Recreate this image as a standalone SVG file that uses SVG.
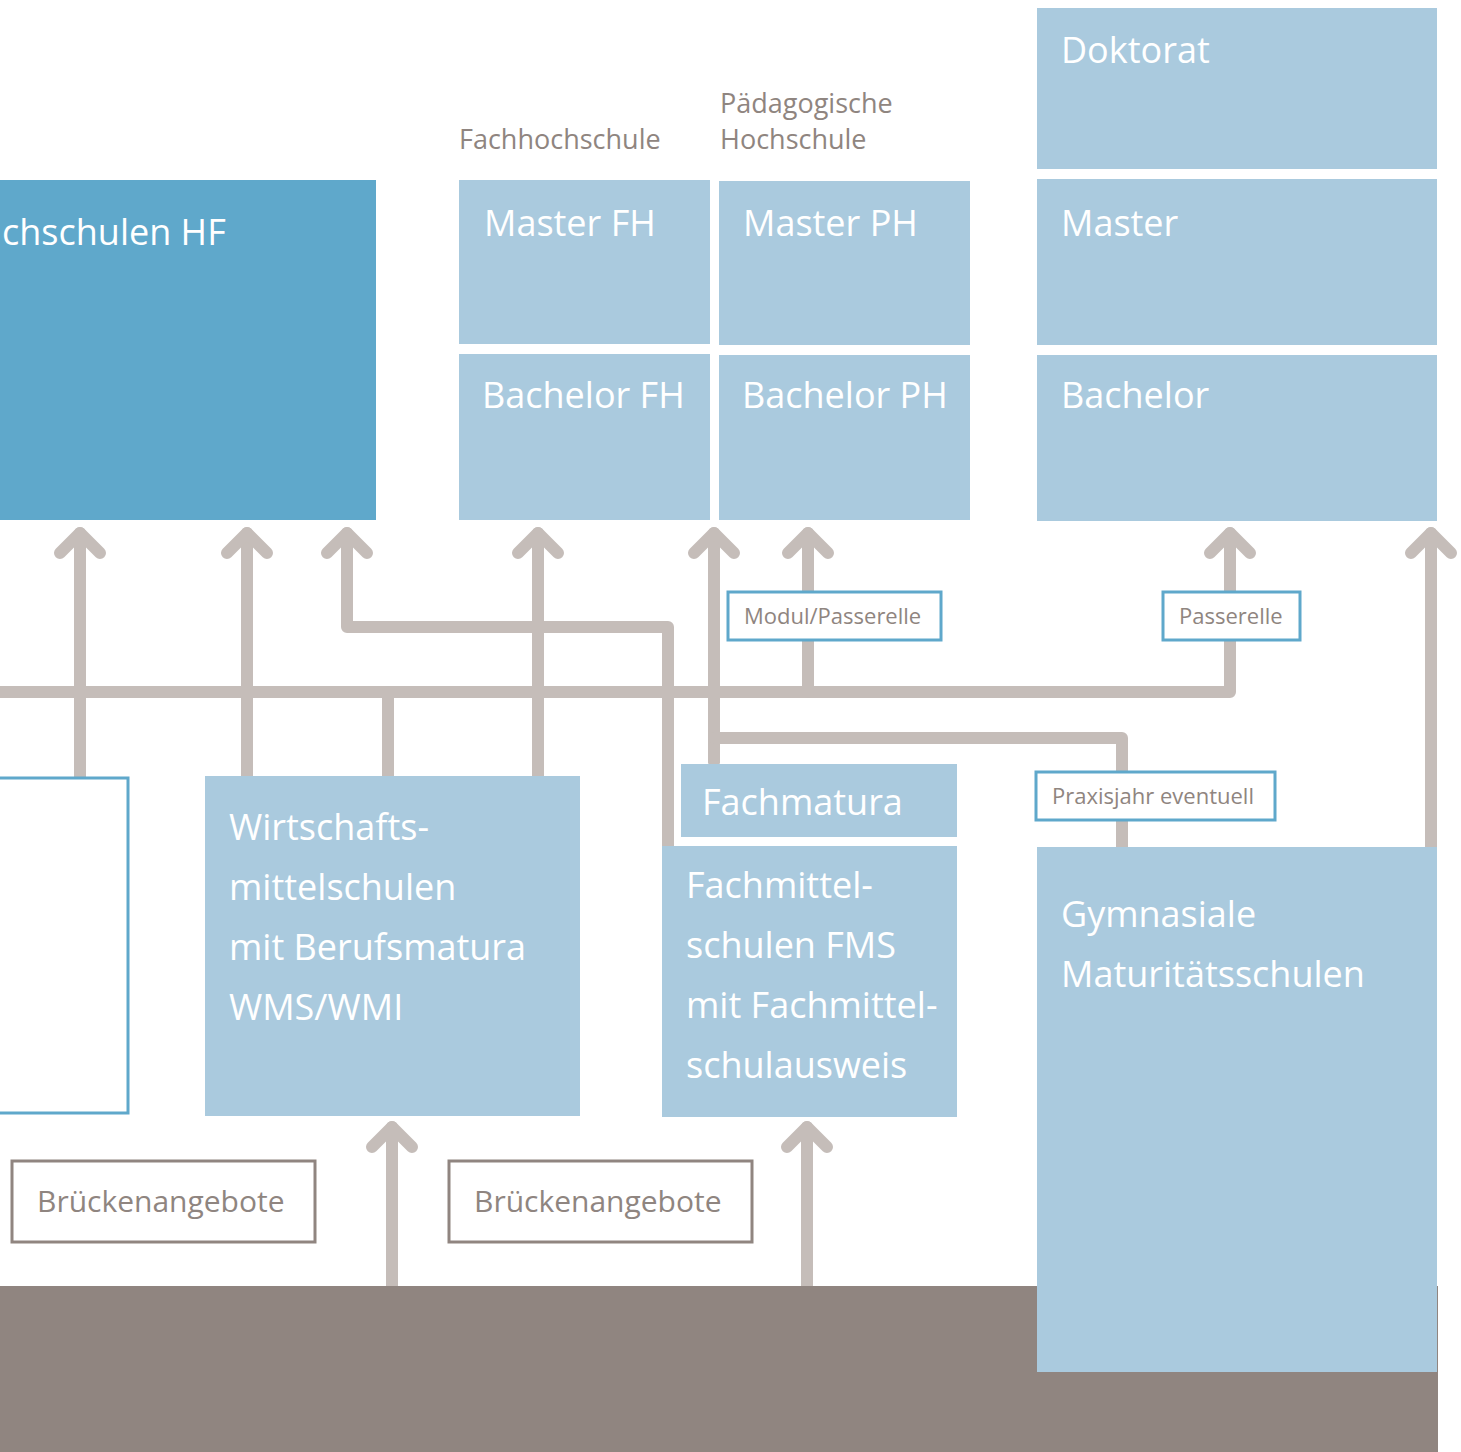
<svg xmlns="http://www.w3.org/2000/svg" xmlns:xlink="http://www.w3.org/1999/xlink" width="1461" height="1452" viewBox="0 0 1461 1452">
<style>
.conn{fill:none;stroke:#c5bdb9;stroke-width:12;stroke-linecap:round;stroke-linejoin:round}
.dark{fill:#5fa8cb}
.light{fill:#aacade}
.t{font-family:"Open Sans","Noto Sans","Liberation Sans",sans-serif;fill:#ffffff;font-size:36px}
.h{font-family:"Open Sans","Noto Sans","Liberation Sans",sans-serif;fill:#8f8580;font-size:27px}
.lbl{fill:#ffffff;stroke:#5fa8cb;stroke-width:3}
.lt{font-family:"Open Sans","Noto Sans","Liberation Sans",sans-serif;fill:#8f8580;font-size:22px}
.br{fill:#ffffff;stroke:#908580;stroke-width:3}
.bt{font-family:"Open Sans","Noto Sans","Liberation Sans",sans-serif;fill:#8f8580;font-size:30px}
</style>
<defs>
<path id="head" class="conn" d="M-20,20 L0,0 L20,20"/>
</defs>
<rect x="0" y="0" width="1461" height="1452" fill="#ffffff"/>
<g id="connectors">
<path class="conn" d="M80,777 V533"/><use xlink:href="#head" x="80" y="533"/>
<path class="conn" d="M247,776 V533"/><use xlink:href="#head" x="247" y="533"/>
<path class="conn" d="M668,846 V627 H347 V533"/><use xlink:href="#head" x="347" y="533"/>
<path class="conn" d="M-10,692 H1230 V533"/><use xlink:href="#head" x="1230" y="533"/>
<path class="conn" d="M388,692 V776"/>
<path class="conn" d="M538,776 V533"/><use xlink:href="#head" x="538" y="533"/>
<path class="conn" d="M714,762 V533"/><use xlink:href="#head" x="714" y="533"/>
<path class="conn" d="M714,738 H1122 V847"/>
<path class="conn" d="M808,692 V533"/><use xlink:href="#head" x="808" y="533"/>
<path class="conn" d="M1431,847 V533"/><use xlink:href="#head" x="1431" y="533"/>
<path class="conn" d="M392,1290 V1127"/><use xlink:href="#head" x="392" y="1127"/>
<path class="conn" d="M807,1290 V1127"/><use xlink:href="#head" x="807" y="1127"/>
</g>
<g id="base"><rect x="0" y="1286" width="1438" height="166" fill="#908580"/></g>
<g id="hf"><rect class="dark" x="0" y="180" width="376" height="340"/><text class="t" x="2" y="245">chschulen HF</text></g>
<g id="lbl-fh"><text class="h" x="459" y="149">Fachhochschule</text></g>
<g id="lbl-ph"><text class="h" x="720" y="113">Pädagogische</text><text class="h" x="720" y="149">Hochschule</text></g>
<g id="master-fh"><rect class="light" x="459" y="180" width="251" height="164"/><text class="t" x="484" y="236">Master FH</text></g>
<g id="bachelor-fh"><rect class="light" x="459" y="354" width="251" height="166"/><text class="t" x="482" y="408">Bachelor FH</text></g>
<g id="master-ph"><rect class="light" x="719" y="181" width="251" height="164"/><text class="t" x="743" y="236">Master PH</text></g>
<g id="bachelor-ph"><rect class="light" x="719" y="355" width="251" height="165"/><text class="t" x="742" y="408">Bachelor PH</text></g>
<g id="doktorat"><rect class="light" x="1037" y="8" width="400" height="161"/><text class="t" x="1061" y="63">Doktorat</text></g>
<g id="master"><rect class="light" x="1037" y="179" width="400" height="166"/><text class="t" x="1061" y="236">Master</text></g>
<g id="bachelor"><rect class="light" x="1037" y="355" width="400" height="166"/><text class="t" x="1061" y="408">Bachelor</text></g>
<g id="left-box"><rect x="-10" y="778" width="138" height="335" fill="#ffffff" stroke="#5fa8cb" stroke-width="3"/></g>
<g id="wms"><rect class="light" x="205" y="776" width="375" height="340"/>
<text class="t" x="229" y="840">Wirtschafts-</text><text class="t" x="229" y="900">mittelschulen</text><text class="t" x="229" y="960">mit Berufsmatura</text><text class="t" x="229" y="1020">WMS/WMI</text></g>
<g id="fachmatura"><rect class="light" x="681" y="764" width="276" height="73"/><text class="t" x="702" y="815">Fachmatura</text></g>
<g id="fms"><rect class="light" x="662" y="846" width="295" height="271"/>
<text class="t" x="686" y="898">Fachmittel-</text><text class="t" x="686" y="958">schulen FMS</text><text class="t" x="686" y="1018">mit Fachmittel-</text><text class="t" x="686" y="1078">schulausweis</text></g>
<g id="gym"><rect class="light" x="1037" y="847" width="400" height="525"/>
<text class="t" x="1061" y="927">Gymnasiale</text><text class="t" x="1061" y="987">Maturitätsschulen</text></g>
<g id="modul"><rect class="lbl" x="728" y="592" width="213" height="48"/><text class="lt" x="744" y="624">Modul/Passerelle</text></g>
<g id="passerelle"><rect class="lbl" x="1163" y="592" width="137" height="48"/><text class="lt" x="1179" y="624">Passerelle</text></g>
<g id="praxis"><rect class="lbl" x="1036" y="772" width="239" height="48"/><text class="lt" x="1052" y="804">Praxisjahr eventuell</text></g>
<g id="bruecke1"><rect class="br" x="12" y="1161" width="303" height="81"/><text class="bt" x="37" y="1212">Brückenangebote</text></g>
<g id="bruecke2"><rect class="br" x="449" y="1161" width="303" height="81"/><text class="bt" x="474" y="1212">Brückenangebote</text></g>
</svg>
